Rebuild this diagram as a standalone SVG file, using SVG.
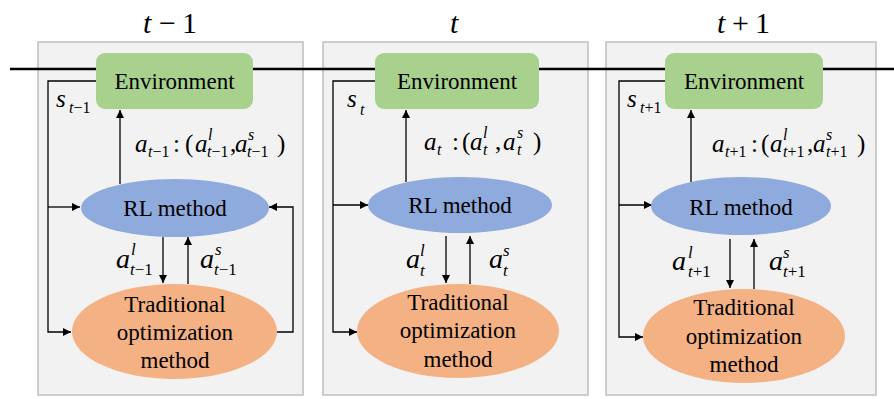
<svg xmlns="http://www.w3.org/2000/svg" width="894" height="399" viewBox="0 0 894 399">
<style>
.panel{fill:#f2f2f2;stroke:#bfbfbf;stroke-width:1.5}
.env{fill:#a9d18e}
.rl{fill:#8faadc}
.tr{fill:#f4b183}
text{font-family:"Liberation Serif","Times New Roman",serif;fill:#000}
.lbl{font-size:23px;text-anchor:middle}
.title{font-size:30px}
.m{font-size:25px}
.ms{font-size:16px}
.mb{font-size:28px}
.mbs{font-size:17px}
.i{font-style:italic}
.c{stroke:#000;stroke-width:1.3;fill:none}
.time{stroke:#000;stroke-width:2.5}
</style>
<defs>
<marker id="ah" viewBox="0 0 10 10" refX="10" refY="5" markerWidth="8" markerHeight="8" markerUnits="userSpaceOnUse" orient="auto">
<path d="M0,0 L10,5 L0,10 z" fill="#000"/>
</marker>
</defs>

<g id="panels">
<rect class="panel" x="38" y="42" width="265" height="353"/>
<rect class="panel" x="323" y="42" width="265" height="353"/>
<rect class="panel" x="606" y="42" width="270" height="353"/>
</g>

<g id="titles">
<text class="title" y="33"><tspan x="143" class="i">t</tspan><tspan x="159">−</tspan><tspan x="182">1</tspan></text>
<text class="title" y="33"><tspan x="450" class="i">t</tspan></text>
<text class="title" y="33"><tspan x="717" class="i">t</tspan><tspan x="732">+</tspan><tspan x="755">1</tspan></text>
</g>

<line id="timeline" class="time" x1="10" y1="69" x2="894" y2="69"/>

<g id="connectors">
<path class="c" d="M96,81 H48 V332 H71" marker-end="url(#ah)"/>
<path class="c" d="M48,207 H80" marker-end="url(#ah)"/>
<path class="c" d="M120,184 V110" marker-end="url(#ah)"/>
<path class="c" d="M163,237 V283" marker-end="url(#ah)"/>
<path class="c" d="M188,284 V237" marker-end="url(#ah)"/>
<path class="c" d="M277,332 H293 V207 H269" marker-end="url(#ah)"/>
<path class="c" d="M375,81 H333 V332 H357" marker-end="url(#ah)"/>
<path class="c" d="M333,205 H368" marker-end="url(#ah)"/>
<path class="c" d="M406,182 V110" marker-end="url(#ah)"/>
<path class="c" d="M446,236 V283" marker-end="url(#ah)"/>
<path class="c" d="M470,284 V236" marker-end="url(#ah)"/>
<path class="c" d="M665,81 H619 V337 H643" marker-end="url(#ah)"/>
<path class="c" d="M619,205 H652" marker-end="url(#ah)"/>
<path class="c" d="M691,182 V110" marker-end="url(#ah)"/>
<path class="c" d="M730,239 V288" marker-end="url(#ah)"/>
<path class="c" d="M754,289 V239" marker-end="url(#ah)"/>
</g>

<g id="env1"><rect class="env" x="96" y="53" width="157" height="56" rx="9"/><text class="lbl" x="174.5" y="89">Environment</text></g>
<g id="env2"><rect class="env" x="375" y="53" width="164" height="56" rx="9"/><text class="lbl" x="457" y="89">Environment</text></g>
<g id="env3"><rect class="env" x="665" y="53" width="158" height="56" rx="9"/><text class="lbl" x="744" y="89">Environment</text></g>

<g id="rl1"><ellipse class="rl" cx="175" cy="208" rx="94" ry="29"/><text class="lbl" x="175" y="216">RL method</text></g>
<g id="rl2"><ellipse class="rl" cx="460" cy="205" rx="92" ry="28"/><text class="lbl" x="460" y="213">RL method</text></g>
<g id="rl3"><ellipse class="rl" cx="741" cy="206" rx="90" ry="29"/><text class="lbl" x="741" y="215">RL method</text></g>

<g id="trad1"><ellipse class="tr" cx="174.5" cy="331.5" rx="102.5" ry="47.5"/><text class="lbl"><tspan x="175" y="312">Traditional</tspan><tspan x="175" y="340">optimization</tspan><tspan x="175" y="368">method</tspan></text></g>
<g id="trad2"><ellipse class="tr" cx="458" cy="331" rx="101" ry="47"/><text class="lbl"><tspan x="458" y="310">Traditional</tspan><tspan x="458" y="338">optimization</tspan><tspan x="458" y="367">method</tspan></text></g>
<g id="trad3"><ellipse class="tr" cx="744" cy="336" rx="101" ry="47"/><text class="lbl"><tspan x="744" y="315">Traditional</tspan><tspan x="744" y="344">optimization</tspan><tspan x="744" y="372">method</tspan></text></g>

<g id="labels">
<text class="m"><tspan class="i" x="56" y="107">s</tspan><tspan class="ms" x="69" y="113"><tspan class="i">t</tspan>−1</tspan></text>
<text class="m"><tspan class="i" x="347" y="107">s</tspan><tspan class="ms i" x="360" y="115">t</tspan></text>
<text class="m"><tspan class="i" x="627" y="107">s</tspan><tspan class="ms" x="640" y="113"><tspan class="i">t</tspan>+1</tspan></text>

<text class="m"><tspan class="i" x="135" y="152">a</tspan><tspan class="ms" x="148" y="157"><tspan class="i">t</tspan>−1</tspan><tspan x="173" y="152">:</tspan><tspan x="185" y="152">(</tspan><tspan class="i" x="195" y="152">a</tspan><tspan class="ms i" x="208" y="140">l</tspan><tspan class="ms" x="207" y="157"><tspan class="i">t</tspan>−1</tspan><tspan x="230" y="152">,</tspan><tspan class="i" x="235" y="152">a</tspan><tspan class="ms i" x="248" y="140">s</tspan><tspan class="ms" x="247" y="157"><tspan class="i">t</tspan>−1</tspan><tspan x="277" y="152">)</tspan></text>
<text class="m"><tspan class="i" x="424" y="150">a</tspan><tspan class="ms i" x="437" y="155">t</tspan><tspan x="452" y="150">:</tspan><tspan x="462" y="150">(</tspan><tspan class="i" x="470" y="150">a</tspan><tspan class="ms i" x="483" y="138">l</tspan><tspan class="ms i" x="483" y="155">t</tspan><tspan x="495" y="150">,</tspan><tspan class="i" x="503" y="150">a</tspan><tspan class="ms i" x="517" y="138">s</tspan><tspan class="ms i" x="517" y="155">t</tspan><tspan x="533" y="150">)</tspan></text>
<text class="m"><tspan class="i" x="712" y="152">a</tspan><tspan class="ms" x="725" y="157"><tspan class="i">t</tspan>+1</tspan><tspan x="751" y="152">:</tspan><tspan x="761" y="152">(</tspan><tspan class="i" x="770" y="152">a</tspan><tspan class="ms i" x="783" y="140">l</tspan><tspan class="ms" x="783" y="157"><tspan class="i">t</tspan>+1</tspan><tspan x="807" y="152">,</tspan><tspan class="i" x="813" y="152">a</tspan><tspan class="ms i" x="826" y="140">s</tspan><tspan class="ms" x="826" y="157"><tspan class="i">t</tspan>+1</tspan><tspan x="857" y="152">)</tspan></text>

<text class="mb"><tspan class="i" x="116" y="268">a</tspan><tspan class="mbs i" x="131" y="255">l</tspan><tspan class="mbs" x="130" y="275"><tspan class="i">t</tspan>−1</tspan></text>
<text class="mb"><tspan class="i" x="200" y="268">a</tspan><tspan class="mbs i" x="215" y="255">s</tspan><tspan class="mbs" x="214" y="275"><tspan class="i">t</tspan>−1</tspan></text>
<text class="mb"><tspan class="i" x="406" y="268">a</tspan><tspan class="mbs i" x="420" y="256">l</tspan><tspan class="mbs i" x="420" y="276">t</tspan></text>
<text class="mb"><tspan class="i" x="489" y="268">a</tspan><tspan class="mbs i" x="503" y="256">s</tspan><tspan class="mbs i" x="503" y="276">t</tspan></text>
<text class="mb"><tspan class="i" x="672" y="270">a</tspan><tspan class="mbs i" x="688" y="258">l</tspan><tspan class="mbs" x="688" y="277"><tspan class="i">t</tspan>+1</tspan></text>
<text class="mb"><tspan class="i" x="769" y="270">a</tspan><tspan class="mbs i" x="783" y="258">s</tspan><tspan class="mbs" x="783" y="277"><tspan class="i">t</tspan>+1</tspan></text>
</g>
</svg>
